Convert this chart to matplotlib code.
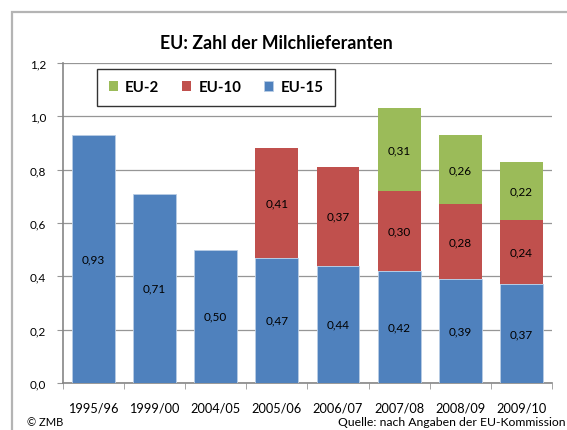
import matplotlib.pyplot as plt
from matplotlib.patches import Rectangle
import numpy as np

plt.rcParams["font.family"] = ["Lato", "DejaVu Sans"]

years = ["1995/96", "1999/00", "2004/05", "2005/06", "2006/07", "2007/08", "2008/09", "2009/10"]
eu15 = [0.93, 0.71, 0.50, 0.47, 0.44, 0.42, 0.39, 0.37]
eu10 = [0, 0, 0, 0.41, 0.37, 0.30, 0.28, 0.24]
eu2 = [0, 0, 0, 0, 0, 0.31, 0.26, 0.22]

BLUE = "#4F81BD"
RED = "#C0504D"
GREEN = "#9BBB59"
GRID = "#969696"


def fmt(v):
    return f"{v:.2f}".replace(".", ",")


fig = plt.figure(figsize=(5.67, 4.31), dpi=100)
ax = fig.add_axes([62.7 / 567, 47 / 431, 489.3 / 567, 320 / 431])

# outer chart frame (runs off the right and bottom edge)
fig.patches.append(Rectangle((12 / 567, -0.1), 1.2, 1 - 12.5 / 431 + 0.1,
                             transform=fig.transFigure, fill=False,
                             edgecolor="#B4B4B4", linewidth=1.6))

x = np.arange(len(years))
w = 0.7
b15 = ax.bar(x, eu15, w, color=BLUE, edgecolor="#B9CDE5", linewidth=0.6, zorder=3)
b10 = ax.bar(x, eu10, w, bottom=eu15, color=RED, zorder=3)
bottom2 = [a + b for a, b in zip(eu15, eu10)]
b2 = ax.bar(x, eu2, w, bottom=bottom2, color=GREEN, zorder=3)

for bars, vals, bots in [(b15, eu15, [0] * len(years)), (b10, eu10, eu15), (b2, eu2, bottom2)]:
    for bar, v, b in zip(bars, vals, bots):
        if v > 0:
            ax.text(bar.get_x() + bar.get_width() / 2, b + v / 2, fmt(v),
                    ha="center", va="center", fontsize=8.5, color="black", zorder=4)

ax.set_xlim(-0.5, len(years) - 0.5)
ax.set_ylim(0, 1.2)
yt = np.arange(0, 1.21, 0.2)
ax.set_yticks(yt)
ax.set_yticklabels([f"{t:.1f}".replace(".", ",") for t in yt], fontsize=8.5)
ax.set_xticks(x)
ax.set_xticklabels(years, fontsize=9.2)
ax.set_xticks(np.arange(-0.5, len(years), 1), minor=True)
ax.tick_params(axis="x", which="major", length=0, pad=13)
ax.tick_params(axis="x", which="minor", length=4, color=GRID, direction="out")
ax.tick_params(axis="y", length=4, color=GRID, direction="out", pad=8)
ax.grid(axis="y", color=GRID, linewidth=0.9, zorder=0)
for s in ["top", "right"]:
    ax.spines[s].set_visible(False)
for s in ["left", "bottom"]:
    ax.spines[s].set_color("#868686")
    ax.spines[s].set_linewidth(1.2)

fig.text(276 / 567, 1 - 44 / 431, "EU: Zahl der Milchlieferanten",
         fontsize=12.8, fontweight="bold", ha="center", va="center")

leg = ax.legend([b2, b10, b15], ["EU-2", "EU-10", "EU-15"], ncol=3, loc="upper left",
                bbox_to_anchor=(0.0707, 0.981), frameon=True, fancybox=False,
                edgecolor="black", handlelength=0.6, handleheight=0.6,
                columnspacing=1.5, handletextpad=0.5, borderpad=0.75,
                borderaxespad=0, prop={"weight": "bold", "size": 10.8})
leg.get_frame().set_linewidth(1.0)

fig.text(27 / 567, 1 - 423 / 431, "© ZMB", fontsize=8, va="center", ha="left")
fig.text(565 / 567, 1 - 423 / 431, "Quelle: nach Angaben der EU-Kommission",
         fontsize=8.8, va="center", ha="right")

fig.savefig("out.png", dpi=100)
